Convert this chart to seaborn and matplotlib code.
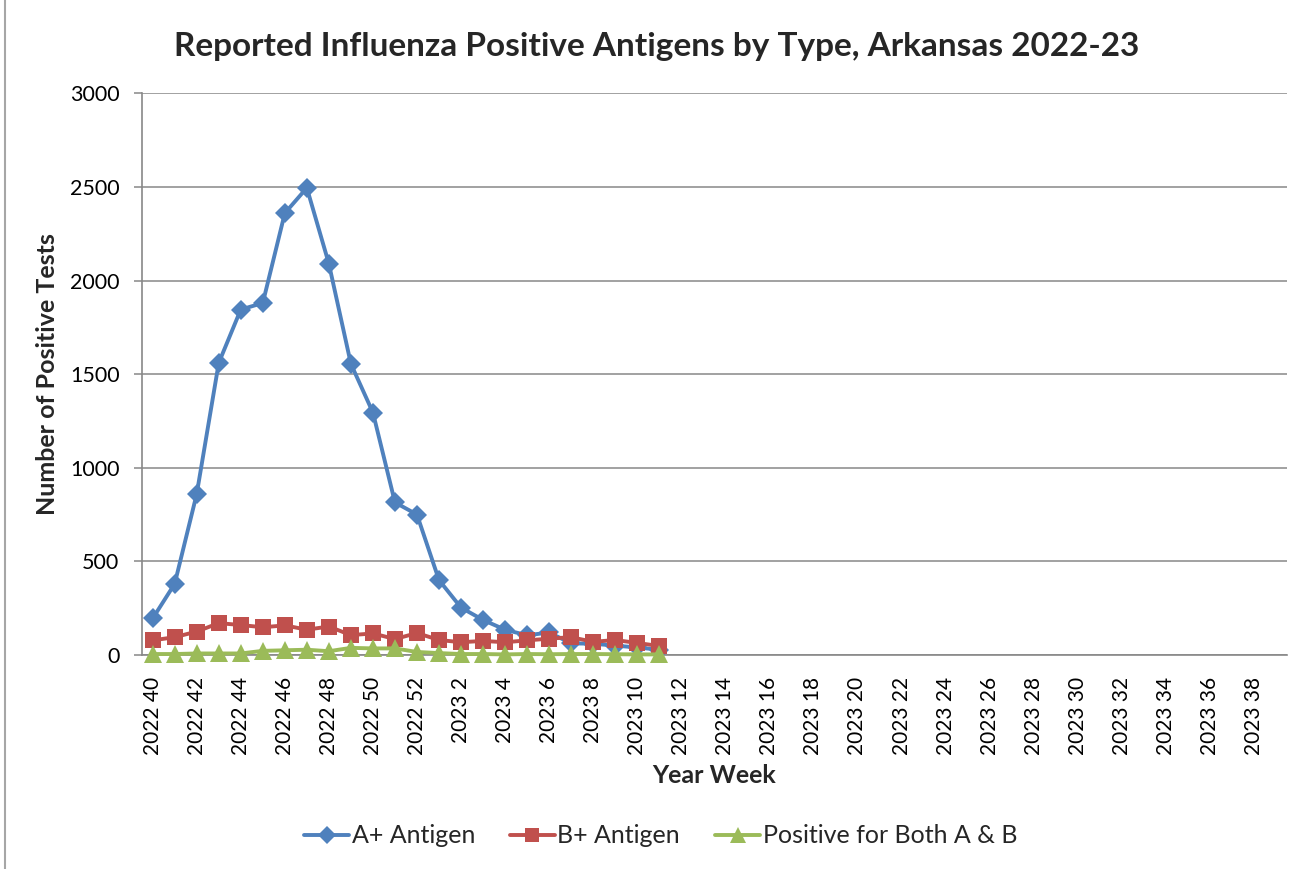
import matplotlib
matplotlib.use("Agg")
import matplotlib.pyplot as plt
import matplotlib.lines as mlines
import seaborn as sns
import pandas as pd
import numpy as np

# ---- data ----
weeks_2022 = list(range(40, 53))
weeks_2023 = list(range(1, 40))
categories = [f"2022 {w}" for w in weeks_2022] + [f"2023 {w}" for w in weeks_2023]

a_pos = [195, 380, 860, 1560, 1845, 1880, 2360, 2495, 2090, 1555, 1295, 815,
         750, 400, 253, 187, 135, 105, 120, 62, 60, 50, 40, 28]
b_pos = [78, 95, 125, 170, 160, 148, 158, 135, 152, 106, 115, 85,
         117, 80, 68, 75, 68, 78, 87, 95, 70, 80, 64, 48]
both_pos = [5, 5, 8, 8, 8, 22, 25, 28, 20, 38, 35, 35,
            16, 10, 5, 5, 3, 5, 4, 5, 5, 4, 3, 3]

series_names = ["A+ Antigen", "B+ Antigen", "Positive for Both A & B"]
y_ticks = [0, 500, 1000, 1500, 2000, 2500, 3000]

title = "Reported Influenza Positive Antigens by Type, Arkansas 2022-23"
x_label = "Year Week"
y_label = "Number of Positive Tests"

# ---- styling ----
sns.set_theme(style="white")
plt.rcParams["font.family"] = ["Lato", "DejaVu Sans"]

colors = ["#4F81BD", "#C0504D", "#9BBB59"]
markers = ["D", "s", "^"]
msizes = [10, 11, 13.5]
grid_c = "#888888"

fig = plt.figure(figsize=(13.08, 8.69), dpi=100)
ax = fig.add_axes([0.1083, 0.2463, 0.9839 - 0.1083, 0.8926 - 0.2463])

frames = []
for name, vals in zip(series_names, [a_pos, b_pos, both_pos]):
    frames.append(pd.DataFrame({"idx": np.arange(len(vals)), "value": vals, "series": name}))
df = pd.concat(frames, ignore_index=True)

for name, c, m, ms in zip(series_names, colors, markers, msizes):
    sub = df[df["series"] == name]
    sns.lineplot(data=sub, x="idx", y="value", ax=ax, color=c, marker=m,
                 markersize=ms, markeredgewidth=0, linewidth=2.8, legend=False,
                 zorder=3)
for ln in ax.lines:
    ln.set_clip_on(False)

ax.set_xlim(-0.5, len(categories) - 0.5)
ax.set_ylim(0, 3000)
ax.set_yticks(y_ticks)
ax.set_yticklabels([str(v) for v in y_ticks], fontsize=15.5)
xt = list(range(0, len(categories), 2))
ax.set_xticks(xt)
ax.set_xticklabels([categories[i] for i in xt], rotation=90, fontsize=15)

ax.yaxis.grid(True, color=grid_c, linewidth=1.1)
ax.set_axisbelow(True)
for s in ["top", "right"]:
    ax.spines[s].set_visible(False)
for s in ["left", "bottom"]:
    ax.spines[s].set_color(grid_c)
    ax.spines[s].set_linewidth(1.2)

ax.tick_params(axis="y", which="both", left=True, length=6, width=1.1,
               color=grid_c, pad=10, labelcolor="black")
ax.tick_params(axis="x", which="both", bottom=False, pad=10, labelcolor="black")

ax.set_xlabel(x_label, fontsize=18, fontweight="bold", labelpad=6)
ax.set_ylabel(y_label, fontsize=18, fontweight="bold", labelpad=8)
fig.text(0.502, 0.947, title, ha="center", va="center", fontsize=24, fontweight="bold")

handles = [mlines.Line2D([], [], color=c, marker=m, markersize=ms * 0.9, markeredgewidth=0,
                         linewidth=2.8, label=n)
           for n, c, m, ms in zip(series_names, colors, markers, msizes)]
fig.legend(handles=handles, loc="center", bbox_to_anchor=(0.505, 0.038), ncol=3,
           frameon=False, fontsize=18, handlelength=1.8, handletextpad=0.1,
           columnspacing=1.4)

# chart-area border (left edge visible)
fig.add_artist(mlines.Line2D([0.0035, 0.0035], [0, 1], transform=fig.transFigure,
                             color="#A6A6A6", linewidth=1.5))

fig.savefig("out.png", dpi=100)
